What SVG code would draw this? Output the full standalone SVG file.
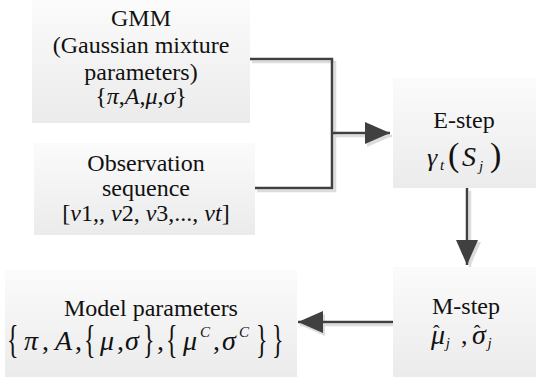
<svg xmlns="http://www.w3.org/2000/svg" width="536" height="382" viewBox="0 0 536 382" font-family="Liberation Serif, Times New Roman, DejaVu Serif, serif">
<defs>
<linearGradient id="boxfill" x1="0" y1="0" x2="0" y2="1">
<stop offset="0" stop-color="#fbfbfb"/>
<stop offset="1" stop-color="#ebebeb"/>
</linearGradient>
<marker id="ah" markerUnits="userSpaceOnUse" markerWidth="25" markerHeight="22" refX="25" refY="11" orient="auto">
<path d="M0,0 L25,11 L0,22 z" fill="#404040"/>
</marker>
<marker id="ahs" markerUnits="userSpaceOnUse" markerWidth="25" markerHeight="22" refX="25" refY="11" orient="auto">
<path d="M0,0 L25,11 L0,22 z" fill="#dcdcdc"/>
</marker>
</defs>
<style>
.box{fill:url(#boxfill);stroke:none}
text{font-family:Liberation Serif, Times New Roman, DejaVu Serif, serif}
.t{font-size:24px;fill:#111;text-anchor:middle}
.m{fill:#111}
.i{font-style:italic}
.n{font-style:normal}
.ln{fill:none;stroke:#404040;stroke-width:2.5}
.sh{fill:none;stroke:#dcdcdc;stroke-width:2.5}
</style>
<rect width="536" height="382" fill="#fff"/>

<g id="connectors">
<path class="sh" d="M252,62 H335 V191 H257"/>
<path class="sh" d="M335,136 H392" marker-end="url(#ahs)"/>
<path class="sh" d="M470,191 V267" marker-end="url(#ahs)"/>
<path class="sh" d="M395,325 H300" marker-end="url(#ahs)"/>
<path class="ln" d="M250,59 H332 V188 H255"/>
<path class="ln" d="M332,133 H390" marker-end="url(#ah)"/>
<path class="ln" d="M467,188 V265" marker-end="url(#ah)"/>
<path class="ln" d="M393,322 H298" marker-end="url(#ah)"/>
</g>

<g id="gmm">
<rect class="box" x="32" y="0" width="218" height="123"/>
<text class="t" x="141" y="26">GMM</text>
<text class="t" x="141" y="53">(Gaussian mixture</text>
<text class="t" x="141" y="80">parameters)</text>
<text class="t" x="141" y="104">{<tspan class="i">π</tspan>,<tspan class="i">A</tspan>,<tspan class="i">μ</tspan>,<tspan class="i">σ</tspan>}</text>
</g>

<g id="observation">
<rect class="box" x="34" y="143" width="221" height="92"/>
<text class="t" x="146" y="171">Observation</text>
<text class="t" x="146" y="196">sequence</text>
<text class="t" x="146" y="221">[<tspan class="i">v</tspan>1,, <tspan class="i">v</tspan>2, <tspan class="i">v</tspan>3,..., <tspan class="i">vt</tspan>]</text>
</g>

<g id="estep">
<rect class="box" x="393" y="78" width="143" height="110"/>
<text class="t" x="464" y="128">E-step</text>
<text class="m i" x="427" y="166" font-size="26">γ</text>
<text class="m i" x="440" y="170" font-size="15">t</text>
<text class="m" x="448" y="166" font-size="34">(</text>
<text class="m i" x="462" y="166" font-size="28">S</text>
<text class="m i" x="479" y="171" font-size="15">j</text>
<text class="m" x="490" y="166" font-size="34">)</text>
</g>

<g id="mstep">
<rect class="box" x="393" y="267" width="143" height="110"/>
<text class="t" x="466" y="314">M-step</text>
<text class="m i" x="431" y="344" font-size="28">μ<tspan class="n" dx="-12" dy="-4" font-size="20">ˆ</tspan><tspan dx="6" dy="8" font-size="15">j</tspan></text>
<text class="m" x="461" y="344" font-size="26">,</text>
<text class="m i" x="472" y="344" font-size="28">σ<tspan class="n" dx="-12" dy="-4" font-size="20">ˆ</tspan><tspan dx="7" dy="8" font-size="15">j</tspan></text>
</g>

<g id="model">
<rect class="box" x="5" y="270" width="292" height="107"/>
<text class="t" x="151" y="316">Model parameters</text>
<text class="m" font-size="40" transform="translate(7,353) scale(0.6,1)">{</text>
<text class="m i" x="24" y="350" font-size="28">π</text>
<text class="m" x="42" y="350" font-size="28">,</text>
<text class="m i" x="55" y="350" font-size="28">A</text>
<text class="m" x="75" y="350" font-size="28">,</text>
<text class="m" font-size="40" transform="translate(84,353) scale(0.6,1)">{</text>
<text class="m i" x="100" y="350" font-size="28">μ</text>
<text class="m" x="117" y="350" font-size="28">,</text>
<text class="m i" x="125" y="350" font-size="28">σ</text>
<text class="m" font-size="40" transform="translate(143,353) scale(0.6,1)">}</text>
<text class="m" x="157" y="350" font-size="28">,</text>
<text class="m" font-size="40" transform="translate(166,353) scale(0.6,1)">{</text>
<text class="m i" x="183" y="350" font-size="28">μ</text>
<text class="m i" x="200" y="337" font-size="15">C</text>
<text class="m" x="213" y="350" font-size="28">,</text>
<text class="m i" x="222" y="350" font-size="28">σ</text>
<text class="m i" x="239" y="337" font-size="15">C</text>
<text class="m" font-size="40" transform="translate(256,353) scale(0.6,1)">}</text>
<text class="m" font-size="40" transform="translate(272,353) scale(0.6,1)">}</text>
</g>
</svg>
